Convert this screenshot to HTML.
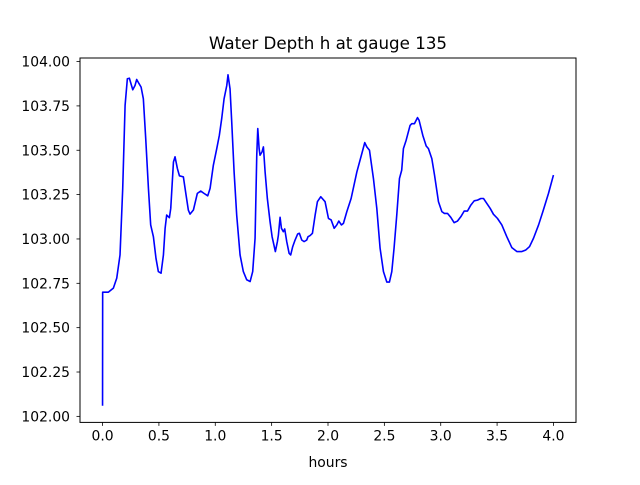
<!DOCTYPE html>
<html><head><meta charset="utf-8">
<style>
html,body{margin:0;padding:0;background:#fff;}
svg text{font-family:"DejaVu Sans","Liberation Sans",sans-serif;fill:#000;}
</style></head>
<body>
<svg id="chart" width="640" height="480" viewBox="0 0 640 480" xmlns="http://www.w3.org/2000/svg">
<rect x="0" y="0" width="640" height="480" fill="#fff"/>
<text x="328" y="49" font-size="16.7" text-anchor="middle">Water Depth h at gauge 135</text>
<g id="xticks"></g>
<g id="yticks"></g>
<path id="series" fill="none" stroke="#0000ff" stroke-width="1.6" stroke-linejoin="round"/>
<rect x="80" y="58" width="496" height="364.4" fill="none" stroke="#000" stroke-width="1"/>
<text x="328" y="467" font-size="13.9" text-anchor="middle">hours</text>
</svg>
<script>
const hours = [0,0.001,0.052,0.096,0.126,0.155,0.179,0.200,0.220,0.238,0.268,0.288,0.303,0.324,0.342,0.362,0.383,0.407,0.427,0.451,0.474,0.495,0.519,0.540,0.555,0.569,0.593,0.605,0.629,0.643,0.664,0.682,0.717,0.741,0.761,0.776,0.806,0.841,0.871,0.900,0.933,0.954,0.983,1.013,1.036,1.057,1.078,1.102,1.113,1.131,1.146,1.167,1.190,1.220,1.249,1.279,1.309,1.332,1.353,1.368,1.377,1.389,1.397,1.415,1.427,1.442,1.462,1.486,1.504,1.533,1.551,1.560,1.575,1.587,1.604,1.616,1.634,1.655,1.669,1.687,1.708,1.731,1.746,1.767,1.788,1.811,1.823,1.841,1.862,1.886,1.906,1.936,1.974,2.004,2.028,2.055,2.078,2.096,2.119,2.137,2.167,2.205,2.256,2.300,2.326,2.344,2.368,2.403,2.433,2.462,2.492,2.522,2.545,2.566,2.586,2.610,2.634,2.654,2.669,2.693,2.728,2.743,2.767,2.794,2.808,2.841,2.871,2.891,2.921,2.945,2.980,3.010,3.033,3.060,3.089,3.119,3.149,3.178,3.208,3.237,3.267,3.297,3.326,3.356,3.380,3.409,3.439,3.468,3.503,3.542,3.586,3.631,3.675,3.720,3.755,3.788,3.823,3.868,3.906,3.956,4.000];
const depth = [102.06,102.70,102.70,102.723,102.779,102.910,103.285,103.753,103.903,103.906,103.841,103.865,103.899,103.875,103.856,103.790,103.566,103.285,103.079,103.013,102.891,102.816,102.807,102.910,103.060,103.135,103.120,103.172,103.434,103.463,103.397,103.356,103.350,103.247,103.163,103.140,103.163,103.257,103.270,103.257,103.243,103.285,103.416,103.509,103.584,103.678,103.790,103.865,103.925,103.846,103.659,103.378,103.135,102.910,102.816,102.770,102.760,102.816,103.004,103.472,103.622,103.509,103.472,103.491,103.519,103.378,103.228,103.097,103.013,102.929,102.985,103.022,103.122,103.060,103.041,103.056,102.985,102.919,102.910,102.957,102.994,103.028,103.032,102.994,102.985,102.994,103.013,103.019,103.032,103.135,103.210,103.238,103.210,103.116,103.107,103.060,103.079,103.101,103.079,103.088,103.154,103.228,103.378,103.481,103.543,103.519,103.500,103.341,103.172,102.948,102.816,102.757,102.757,102.816,102.948,103.135,103.341,103.388,103.509,103.556,103.640,103.650,103.650,103.684,103.669,103.584,103.524,103.509,103.453,103.360,103.210,103.154,103.144,103.144,103.122,103.092,103.101,103.125,103.157,103.157,103.191,103.215,103.219,103.228,103.228,103.200,103.172,103.139,103.116,103.079,103.013,102.951,102.929,102.929,102.938,102.957,103.004,103.079,103.154,103.257,103.360];
const xTicks = [0,0.5,1,1.5,2,2.5,3,3.5,4];
const xTickLabels = ["0.0","0.5","1.0","1.5","2.0","2.5","3.0","3.5","4.0"];
const yTicks = [102,102.25,102.5,102.75,103,103.25,103.5,103.75,104];
const yTickLabels = ["102.00","102.25","102.50","102.75","103.00","103.25","103.50","103.75","104.00"];

const L=80,R=576,T=58,B=422.4;
const xMin=-0.2,xMax=4.2,yMin=101.966,yMax=104.02;
const X=v=>L+(v-xMin)/(xMax-xMin)*(R-L);
const Y=v=>B-(v-yMin)/(yMax-yMin)*(B-T);
const NS="http://www.w3.org/2000/svg";

const xg=document.getElementById('xticks');
xTicks.forEach((t,i)=>{
  const x=X(t);
  const ln=document.createElementNS(NS,'line');
  
  
  ln.setAttribute('x1',x);ln.setAttribute('x2',x);ln.setAttribute('y1',B);ln.setAttribute('y2',B+3.5);
  ln.setAttribute('stroke','#000');ln.setAttribute('stroke-width','0.8');
  xg.appendChild(ln);
  const tx=document.createElementNS(NS,'text');
  
  
  tx.setAttribute('x',x);tx.setAttribute('y',B+18);
  tx.setAttribute('font-size','13.9');tx.setAttribute('text-anchor','middle');
  tx.textContent=xTickLabels[i];
  xg.appendChild(tx);
});
const yg=document.getElementById('yticks');
yTicks.forEach((t,i)=>{
  const y=Y(t);
  const ln=document.createElementNS(NS,'line');
  
  
  ln.setAttribute('x1',L-3.5);ln.setAttribute('x2',L);ln.setAttribute('y1',y);ln.setAttribute('y2',y);
  ln.setAttribute('stroke','#000');ln.setAttribute('stroke-width','0.8');
  yg.appendChild(ln);
  const tx=document.createElementNS(NS,'text');
  
  
  tx.setAttribute('x',L-10);tx.setAttribute('y',y+5);
  tx.setAttribute('font-size','13.9');tx.setAttribute('text-anchor','end');
  tx.textContent=yTickLabels[i];
  yg.appendChild(tx);
});
document.getElementById('series').setAttribute('d',
  hours.map((h,i)=>(i?'L':'M')+X(h).toFixed(2)+','+Y(depth[i]).toFixed(2)).join(' '));
</script>
</body></html>
